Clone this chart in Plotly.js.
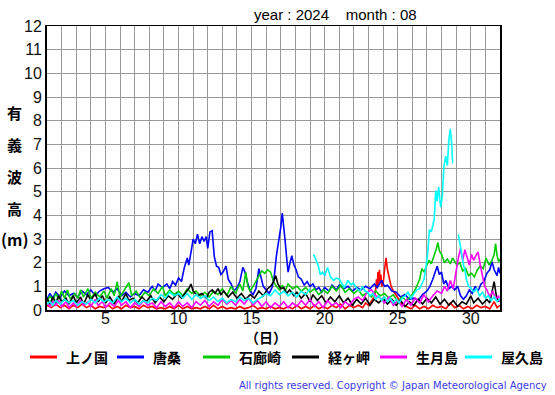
<!DOCTYPE html>
<html>
<head>
<meta charset="utf-8">
<script src="https://cdn.plot.ly/plotly-3.0.1.min.js"></script>
<style>
html,body{margin:0;padding:0;background:#fff;}
#chart{width:555px;height:395px;}
</style>
</head>
<body>
<div id="chart"></div>
<script>
// ---- data: [day of month (fractional), significant wave height (m)] ----
const stationNames = ["上ノ国", "唐桑", "石廊崎", "経ヶ岬", "生月島", "屋久島"];
const stationColors = ["#ff0000", "#0000ff", "#00cc00", "#000000", "#ff00ff", "#00ffff"];

const kaminokuni = [[1.0,0.2],[1.3,0.1],[1.6,0.25],[1.9,0.1],[2.2,0.2],[2.5,0.05],[2.8,0.2],[3.1,0.1],[3.4,0.25],[3.7,0.1],[4.0,0.2],[4.3,0.05],[4.6,0.15],[4.9,0.1],[5.2,0.2],[5.5,0.05],[5.8,0.15],[6.1,0.05],[6.4,0.2],[6.7,0.1],[7.0,0.15],[7.3,0.05],[7.6,0.2],[7.9,0.1],[8.2,0.15],[8.5,0.05],[8.8,0.1],[9.1,0.05],[9.4,0.15],[9.7,0.05],[10.0,0.2],[10.3,0.05],[10.6,0.15],[10.9,0.05],[11.2,0.1],[11.5,0.05],[11.8,0.15],[12.1,0.05],[12.4,0.2],[12.7,0.05],[13.0,0.15],[13.3,0.05],[13.6,0.1],[13.9,0.05],[14.2,0.15],[14.5,0.05],[14.8,0.1],[15.1,0.2],[15.4,0.05],[15.7,0.1],[16.0,0.05],[16.3,0.15],[16.6,0.05],[16.9,0.1],[17.2,0.05],[17.5,0.15],[17.8,0.05],[18.1,0.2],[18.4,0.05],[18.7,0.15],[19.0,0.05],[19.3,0.2],[19.6,0.05],[19.9,0.15],[20.2,0.05],[20.5,0.2],[20.8,0.1],[21.1,0.25],[21.4,0.05],[21.7,0.2],[22.0,0.1],[22.3,0.2],[22.6,0.1],[22.8,0.3],[23.0,0.2],[23.2,0.4],[23.4,0.55],[23.5,0.9],[23.55,1.3],[23.6,1.0],[23.65,1.6],[23.7,1.1],[23.75,1.7],[23.8,1.2],[23.85,1.5],[23.9,1.0],[24.0,1.1],[24.1,1.7],[24.2,2.2],[24.3,1.7],[24.4,1.4],[24.55,1.0],[24.7,0.8],[24.9,0.6],[25.1,0.4],[25.3,0.25],[25.6,0.15],[25.9,0.05],[26.2,0.2],[26.5,0.05],[26.8,0.15],[27.1,0.05],[27.4,0.2],[27.7,0.1],[28.0,0.15],[28.3,0.05],[28.6,0.3],[28.9,0.1],[29.2,0.2],[29.5,0.05],[29.8,0.15],[30.1,0.05],[30.4,0.2],[30.7,0.1],[31.0,0.15],[31.3,0.05],[31.6,0.35],[31.8,0.1],[32.0,0.2]];

const karakuwa = [[1.0,0.45],[1.2,0.7],[1.4,0.5],[1.6,0.75],[1.9,0.55],[2.2,0.8],[2.5,0.6],[2.8,0.7],[3.1,0.55],[3.4,0.8],[3.7,0.65],[4.0,0.85],[4.3,0.6],[4.6,0.8],[4.9,0.9],[5.2,0.95],[5.5,0.75],[5.8,0.9],[6.1,0.6],[6.4,0.75],[6.7,0.55],[7.0,0.7],[7.3,0.6],[7.6,0.85],[7.9,0.75],[8.2,1.0],[8.4,0.8],[8.6,1.1],[8.9,0.95],[9.2,1.1],[9.4,0.9],[9.6,1.2],[9.8,1.05],[10.0,1.35],[10.2,1.2],[10.4,1.8],[10.6,2.2],[10.7,1.9],[10.9,2.6],[11.0,3.0],[11.15,2.8],[11.3,3.2],[11.45,2.8],[11.6,3.1],[11.75,2.9],[11.9,3.1],[12.0,2.6],[12.15,3.3],[12.3,3.35],[12.45,2.25],[12.6,1.85],[12.75,1.8],[12.9,1.5],[13.05,1.6],[13.25,1.85],[13.4,1.3],[13.6,1.1],[13.8,0.8],[14.0,0.95],[14.2,1.2],[14.4,1.8],[14.55,1.6],[14.7,1.2],[14.9,0.8],[15.1,0.65],[15.3,0.9],[15.5,1.75],[15.65,1.4],[15.8,1.0],[16.0,0.85],[16.2,0.7],[16.4,0.95],[16.55,1.4],[16.7,2.3],[16.8,2.7],[16.9,3.0],[17.0,3.5],[17.1,4.1],[17.2,3.6],[17.3,2.9],[17.4,2.2],[17.5,1.6],[17.6,1.9],[17.75,2.3],[17.9,1.9],[18.05,1.7],[18.2,1.4],[18.4,1.3],[18.6,1.05],[18.8,1.2],[19.0,1.0],[19.2,1.1],[19.4,0.85],[19.6,0.95],[19.8,0.75],[20.0,0.95],[20.3,0.8],[20.5,1.05],[20.8,0.85],[21.0,1.05],[21.3,0.9],[21.6,1.0],[21.9,0.8],[22.2,0.95],[22.5,0.85],[22.8,1.0],[23.1,0.9],[23.4,1.1],[23.6,0.95],[23.9,1.25],[24.1,1.0],[24.3,1.05],[24.6,0.8],[24.9,0.75],[25.2,0.55],[25.5,0.65],[25.8,0.45],[26.1,0.5],[26.4,0.4],[26.7,0.65],[27.0,0.8],[27.2,1.0],[27.4,1.3],[27.55,1.55],[27.7,1.85],[27.85,1.5],[28.0,1.6],[28.15,1.1],[28.3,1.25],[28.5,0.9],[28.7,1.0],[28.9,0.85],[29.1,1.0],[29.3,0.6],[29.5,0.45],[29.7,0.6],[29.9,0.85],[30.1,0.7],[30.3,1.0],[30.5,0.8],[30.7,1.1],[30.9,1.2],[31.1,1.55],[31.3,1.7],[31.45,2.05],[31.6,1.7],[31.8,1.45],[31.9,1.8],[32.0,1.55]];

const irozaki = [[1.0,0.35],[1.2,0.6],[1.4,0.4],[1.6,0.7],[1.8,0.45],[2.0,0.8],[2.2,0.5],[2.4,0.85],[2.6,0.45],[2.9,0.7],[3.1,0.5],[3.3,0.85],[3.5,0.55],[3.8,0.9],[4.0,0.5],[4.3,0.75],[4.6,0.55],[4.9,0.8],[5.1,0.5],[5.4,0.9],[5.6,0.6],[5.8,1.2],[6.0,0.55],[6.3,0.85],[6.6,1.15],[6.8,0.6],[7.1,0.8],[7.4,0.5],[7.7,0.75],[8.0,0.6],[8.3,0.9],[8.6,0.7],[8.9,1.0],[9.1,0.6],[9.4,0.85],[9.7,0.65],[10.0,0.8],[10.3,0.6],[10.6,0.9],[10.9,0.7],[11.2,0.8],[11.5,0.6],[11.8,0.75],[12.1,0.55],[12.4,0.8],[12.7,0.65],[13.0,0.9],[13.3,0.6],[13.6,1.0],[13.9,0.7],[14.2,1.1],[14.4,0.8],[14.6,1.6],[14.75,1.0],[14.9,0.8],[15.1,1.0],[15.3,1.2],[15.5,1.4],[15.7,1.65],[15.9,1.55],[16.1,1.7],[16.3,1.6],[16.5,1.2],[16.7,1.0],[16.9,0.85],[17.1,1.05],[17.3,0.8],[17.5,1.1],[17.8,0.9],[18.1,1.0],[18.4,0.8],[18.7,0.95],[19.0,0.75],[19.3,0.9],[19.6,0.65],[19.9,0.85],[20.2,0.7],[20.5,1.0],[20.8,0.8],[21.1,1.05],[21.4,0.75],[21.7,0.9],[22.0,0.7],[22.3,0.85],[22.6,0.6],[22.9,0.75],[23.2,0.55],[23.5,0.8],[23.8,0.6],[24.1,0.7],[24.4,0.5],[24.7,0.65],[25.0,0.35],[25.3,0.55],[25.6,0.4],[25.9,0.6],[26.1,0.75],[26.3,1.0],[26.5,1.3],[26.65,1.75],[26.8,1.6],[27.0,1.9],[27.15,2.1],[27.3,1.95],[27.5,2.3],[27.65,2.6],[27.75,2.85],[27.85,2.5],[28.0,2.35],[28.2,2.0],[28.4,2.15],[28.6,1.95],[28.75,2.2],[28.9,2.05],[29.05,1.9],[29.25,2.0],[29.45,1.65],[29.65,1.75],[29.85,1.45],[30.05,1.55],[30.25,1.4],[30.45,1.7],[30.65,1.85],[30.85,1.75],[31.05,2.2],[31.25,1.9],[31.45,2.1],[31.6,2.35],[31.7,2.8],[31.8,2.3],[31.9,2.05],[32.0,2.15]];

const kyogamisaki = [[1.0,0.5],[1.2,0.25],[1.4,0.55],[1.6,0.3],[1.8,0.6],[2.0,0.35],[2.3,0.5],[2.5,0.25],[2.8,0.6],[3.0,0.3],[3.3,0.55],[3.5,0.25],[3.8,0.65],[4.0,0.4],[4.3,0.7],[4.5,0.35],[4.8,0.6],[5.0,0.3],[5.3,0.55],[5.6,0.25],[5.9,0.6],[6.1,0.35],[6.4,0.7],[6.6,0.4],[6.9,0.5],[7.2,0.3],[7.5,0.55],[7.8,0.35],[8.1,0.6],[8.4,0.3],[8.7,0.55],[9.0,0.35],[9.3,0.6],[9.6,0.45],[9.9,0.7],[10.2,0.5],[10.5,0.75],[10.7,0.9],[10.85,1.1],[11.0,0.8],[11.3,0.6],[11.6,0.7],[11.9,0.5],[12.1,0.75],[12.3,0.85],[12.5,0.7],[12.7,0.9],[12.9,0.65],[13.1,0.8],[13.4,0.55],[13.7,0.75],[14.0,0.5],[14.3,0.7],[14.6,0.45],[14.9,0.65],[15.2,0.5],[15.5,0.8],[15.8,0.6],[16.1,0.9],[16.3,1.0],[16.5,1.2],[16.65,1.45],[16.8,1.1],[17.0,0.9],[17.2,0.95],[17.4,0.7],[17.6,0.85],[17.9,0.6],[18.1,0.75],[18.4,0.5],[18.7,0.7],[19.0,0.35],[19.2,0.65],[19.5,0.4],[19.8,0.6],[20.1,0.3],[20.4,0.55],[20.7,0.35],[21.0,0.6],[21.3,0.3],[21.6,0.5],[21.9,0.2],[22.2,0.45],[22.5,0.25],[22.8,0.5],[23.1,0.2],[23.4,0.45],[23.7,0.3],[24.0,0.5],[24.3,0.25],[24.6,0.45],[24.9,0.2],[25.2,0.4],[25.5,0.15],[25.8,0.35],[26.1,0.2],[26.4,0.45],[26.7,0.25],[27.0,0.5],[27.3,0.3],[27.6,0.55],[27.9,0.25],[28.2,0.45],[28.5,0.2],[28.8,0.4],[29.1,0.15],[29.4,0.35],[29.7,0.25],[30.0,0.6],[30.2,0.3],[30.5,0.5],[30.8,0.25],[31.1,0.45],[31.3,0.3],[31.5,0.9],[31.6,1.2],[31.75,0.6],[31.9,0.35],[32.0,0.5]];

const ikitsukishima = [[1.0,0.3],[1.2,0.15],[1.4,0.35],[1.6,0.2],[1.8,0.4],[2.0,0.15],[2.3,0.35],[2.5,0.1],[2.8,0.3],[3.0,0.15],[3.3,0.4],[3.5,0.2],[3.8,0.35],[4.0,0.15],[4.3,0.45],[4.5,0.2],[4.8,0.35],[5.0,0.1],[5.3,0.3],[5.6,0.15],[5.9,0.4],[6.1,0.2],[6.4,0.35],[6.7,0.1],[7.0,0.3],[7.3,0.15],[7.6,0.4],[7.9,0.2],[8.2,0.3],[8.5,0.1],[8.8,0.35],[9.1,0.15],[9.4,0.3],[9.7,0.1],[10.0,0.35],[10.3,0.15],[10.6,0.3],[10.9,0.1],[11.2,0.35],[11.5,0.2],[11.8,0.4],[12.1,0.15],[12.4,0.35],[12.7,0.2],[13.0,0.45],[13.3,0.25],[13.6,0.4],[13.9,0.2],[14.2,0.45],[14.5,0.25],[14.8,0.5],[15.1,0.2],[15.4,0.4],[15.7,0.15],[16.0,0.35],[16.3,0.1],[16.6,0.3],[16.9,0.15],[17.2,0.35],[17.5,0.1],[17.8,0.3],[18.1,0.15],[18.4,0.4],[18.7,0.2],[19.0,0.45],[19.3,0.15],[19.6,0.35],[19.9,0.1],[20.2,0.4],[20.5,0.2],[20.8,0.3],[21.1,0.1],[21.4,0.35],[21.7,0.2],[22.0,0.45],[22.3,0.55],[22.6,0.4],[22.9,0.75],[23.2,0.85],[23.5,0.6],[23.8,0.5],[24.1,0.3],[24.4,0.55],[24.7,0.2],[25.0,0.4],[25.3,0.15],[25.6,0.45],[25.9,0.2],[26.2,0.5],[26.5,0.3],[26.8,0.65],[27.1,0.35],[27.4,0.6],[27.7,0.8],[28.0,0.7],[28.2,1.0],[28.4,0.8],[28.6,1.25],[28.8,0.9],[29.0,1.7],[29.15,2.2],[29.3,2.6],[29.45,2.1],[29.6,2.55],[29.75,2.2],[29.9,1.9],[30.05,2.35],[30.2,2.1],[30.35,2.3],[30.5,2.45],[30.65,1.9],[30.8,1.4],[30.95,1.0],[31.1,0.85],[31.3,0.55],[31.5,0.8],[31.7,0.45],[31.9,0.6],[32.0,0.35]];

const yakushima = [[1.0,0.25],[1.2,0.35],[1.4,0.2],[1.6,0.4],[1.9,0.25],[2.2,0.45],[2.5,0.3],[2.8,0.4],[3.1,0.2],[3.4,0.35],[3.7,0.25],[4.0,0.45],[4.3,0.3],[4.6,0.5],[4.9,0.35],[5.2,0.45],[5.5,0.3],[5.8,0.55],[6.1,0.35],[6.4,0.5],[6.7,0.3],[7.0,0.45],[7.3,0.25],[7.6,0.4],[7.9,0.3],[8.2,0.5],[8.5,0.4],[8.8,0.65],[9.1,0.5],[9.4,0.75],[9.7,0.6],[10.0,0.7],[10.3,0.5],[10.6,0.7],[10.9,0.45],[11.2,0.65],[11.5,0.5],[11.8,0.6],[12.1,0.4],[12.4,0.55],[12.7,0.35],[13.0,0.5],[13.3,0.3],[13.6,0.45],[13.9,0.35],[14.2,0.55],[14.5,0.4],[14.8,0.5],[15.1,0.3],[15.4,0.45],[15.7,0.55],[16.0,0.7],[16.3,0.6],[16.6,0.85],[16.9,0.65],[17.2,0.8],[17.5,0.6],[17.8,0.75],[18.1,0.55],[18.4,0.8],[18.7,0.65],[19.0,0.9],[19.1,null],[19.25,2.35],[19.4,2.1],[19.55,1.9],[19.7,1.5],[19.85,1.6],[20.0,1.45],[20.2,1.8],[20.4,1.4],[20.6,1.25],[20.8,1.35],[21.0,1.3],[21.2,1.1],[21.35,0.95],[21.6,1.25],[21.8,1.05],[21.95,1.15],[22.15,0.95],[22.4,0.8],[22.6,1.0],[22.75,0.8],[22.95,0.75],[23.1,0.6],[23.3,0.7],[23.5,0.45],[23.7,0.6],[23.9,0.4],[24.1,0.55],[24.3,0.35],[24.5,0.5],[24.7,0.3],[24.9,0.45],[25.1,0.3],[25.3,0.5],[25.5,0.6],[25.7,0.75],[25.9,0.5],[26.1,0.7],[26.3,0.85],[26.5,0.9],[26.65,1.1],[26.8,1.3],[26.95,1.9],[27.05,2.4],[27.17,3.4],[27.3,3.3],[27.4,3.55],[27.5,3.85],[27.6,5.05],[27.7,4.6],[27.8,5.2],[27.94,4.35],[28.05,4.8],[28.16,6.05],[28.28,6.5],[28.4,6.1],[28.5,7.2],[28.6,7.65],[28.7,7.0],[28.76,6.2],[28.9,null],[29.15,3.2],[29.3,2.6],[29.4,2.4],[29.5,1.9],[29.6,1.7],[29.7,1.3],[29.85,1.0],[30.0,0.95],[30.2,0.75],[30.4,0.9],[30.6,0.6],[30.8,0.75],[31.0,0.5],[31.2,0.6],[31.4,0.4],[31.6,0.55],[31.8,0.35],[32.0,0.5]];

const stationSeries = [kaminokuni, karakuwa, irozaki, kyogamisaki, ikitsukishima, yakushima];

const xTickLabels = {5: "5", 10: "10", 15: "15", 20: "20", 25: "25", 30: "30"};
const yTickValues = [0,1,2,3,4,5,6,7,8,9,10,11,12];
const yLabelChars = ["有", "義", "波", "高", "(m)"];
const titleText = "year : 2024&nbsp;&nbsp;&nbsp;&nbsp;month : 08";
const xLabelText = "（日）";
const copyrightText = "All rights reserved. Copyright © Japan Meteorological Agency";

// ---- build ----
const traces = stationSeries.map((s, i) => ({
  type: "scatter", mode: "lines",
  x: s.map(p => p[0]), y: s.map(p => p[1]),
  name: stationNames[i],
  line: {color: stationColors[i], width: 1.6},
  connectgaps: false,
  hoverinfo: "skip"
}));

const xTickVals = [];
const xTickText = [];
for (let d = 1; d <= 32; d++) { xTickVals.push(d); xTickText.push(xTickLabels[d] || ""); }

const L = 47, R = 500, T = 26, B = 310, W = 555, H = 395;
const px = x => (x - L) / (R - L);
const py = y => (B - y) / (B - T);

const annotations = [];
const shapes = [];
annotations.push({xref: "paper", yref: "paper", x: px(335), y: py(14), text: titleText, showarrow: false,
  xanchor: "center", yanchor: "middle", font: {family: "Liberation Sans, Arial", size: 15, color: "#000"}});
annotations.push({xref: "paper", yref: "paper", x: px(266), y: py(337), text: xLabelText, showarrow: false,
  xanchor: "center", yanchor: "middle", font: {family: "Noto Sans CJK JP", size: 14, color: "#000", weight: "bold"}});
const yLabelY = [112, 144, 176, 208, 239];
yLabelChars.forEach((c, i) => annotations.push({xref: "paper", yref: "paper", x: px(i === 4 ? 15 : 14), y: py(yLabelY[i]), text: c,
  showarrow: false, xanchor: "center", yanchor: "middle", font: {family: "Noto Sans CJK JP", size: i === 4 ? 16 : 15, color: "#000", weight: "bold"}}));
const legLineX = [30, 117, 203, 292, 380, 465];
stationNames.forEach((n, i) => {
  shapes.push({type: "line", xref: "paper", yref: "paper", x0: px(legLineX[i]), x1: px(legLineX[i] + 27),
    y0: py(357), y1: py(357), line: {color: stationColors[i], width: 3}});
  annotations.push({xref: "paper", yref: "paper", x: px(legLineX[i] + 34), y: py(357), text: n, showarrow: false,
    xanchor: "left", yanchor: "middle", font: {family: "Noto Sans CJK JP", size: 14, color: "#000", weight: "bold"}});
});
annotations.push({xref: "paper", yref: "paper", x: px(549), y: py(385), text: copyrightText, showarrow: false,
  xanchor: "right", yanchor: "middle", font: {family: "DejaVu Sans", size: 10, color: "#3a3ae6"}});

const layout = {
  width: W, height: H,
  margin: {l: L, r: W - R, t: T, b: H - B, pad: 0},
  paper_bgcolor: "#fff", plot_bgcolor: "#fff",
  showlegend: false,
  xaxis: {range: [1, 32], tickvals: xTickVals, ticktext: xTickText, ticks: "",
    ticklabelstandoff: -7,
    showgrid: true, gridcolor: "#999", gridwidth: 1, zeroline: false,
    showline: true, linecolor: "#000", linewidth: 1.5, mirror: true,
    tickfont: {family: "Liberation Sans, Arial", size: 16, color: "#111"}, fixedrange: true},
  yaxis: {range: [0, 12], tickvals: yTickValues, ticks: "",
    showgrid: true, gridcolor: "#999", gridwidth: 1, zeroline: false,
    showline: true, linecolor: "#000", linewidth: 2, mirror: true,
    tickfont: {family: "Liberation Sans, Arial", size: 16, color: "#111"}, fixedrange: true},
  annotations: annotations,
  shapes: shapes
};

Plotly.newPlot("chart", traces, layout, {staticPlot: true, displayModeBar: false});
</script>
</body>
</html>
